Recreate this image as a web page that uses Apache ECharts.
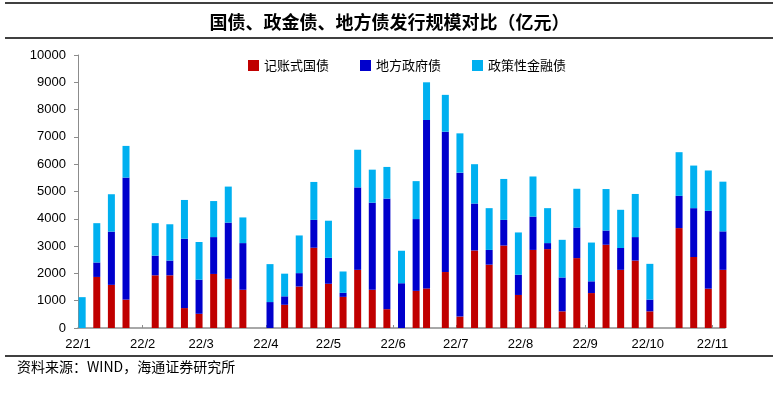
<!DOCTYPE html>
<html>

<head>
    <meta charset="utf-8">
    <title>国债、政金债、地方债发行规模对比</title>
    <script src="https://cdn.jsdelivr.net/npm/echarts@6.0.0/dist/echarts.min.js"></script>
</head>

<body style="margin: 0;">
    <div id="main" style="width: 779px; height: 398px;"></div>

    <script>
        // week dates (bar positions on the date axis)
        var weeks = [
            '2022-01-03', '2022-01-10', '2022-01-17', '2022-01-24',
            '2022-02-07', '2022-02-14', '2022-02-21', '2022-02-28',
            '2022-03-07', '2022-03-14', '2022-03-21',
            '2022-04-03', '2022-04-10', '2022-04-17', '2022-04-24',
            '2022-05-01', '2022-05-08', '2022-05-15', '2022-05-22', '2022-05-29',
            '2022-06-05', '2022-06-12', '2022-06-17', '2022-06-26',
            '2022-07-03', '2022-07-10', '2022-07-17', '2022-07-24', '2022-07-31',
            '2022-08-07', '2022-08-14', '2022-08-21', '2022-08-28',
            '2022-09-04', '2022-09-11', '2022-09-18', '2022-09-25',
            '2022-10-02', '2022-10-16', '2022-10-23', '2022-10-30', '2022-11-06'
        ];
        // 记账式国债
        var treasuryBonds = [
            0, 1870, 1580, 1040,
            1930, 1930, 730, 520,
            1980, 1800, 1400,
            0, 850, 1520, 2940,
            1620, 1140, 2130, 1400, 690,
            0, 1360, 1450, 2050,
            420, 2840, 2320, 3020, 1210,
            2860, 2890, 610, 2560,
            1280, 3050, 2130, 2470,
            610, 3660, 2600, 1440, 2130
        ];
        // 地方政府债
        var localBonds = [
            0, 530, 1950, 4470,
            720, 540, 2540, 1250,
            1350, 2060, 1710,
            950, 310, 490, 1020,
            950, 150, 3020, 3190, 4050,
            1640, 2630, 6170, 5140,
            5270, 1720, 540, 940, 740,
            1220, 220, 1240, 1120,
            430, 520, 800, 860,
            430, 1180, 1790, 2850, 1410
        ];
        // 政策性金融债
        var policyBonds = [
            1130, 1440, 1370, 1160,
            1190, 1330, 1420, 1380,
            1320, 1320, 940,
            1390, 830, 1380, 1390,
            1360, 780, 1380, 1210, 1160,
            1190, 1390, 1380, 1350,
            1440, 1440, 1530, 1500, 1550,
            1470, 1280, 1380, 1420,
            1420, 1520, 1400, 1580,
            1310, 1600, 1560, 1480, 1820
        ];
        var monthStarts = [
            '2022-01-01', '2022-02-01', '2022-03-01', '2022-04-01', '2022-05-01', '2022-06-01',
            '2022-07-01', '2022-08-01', '2022-09-01', '2022-10-01', '2022-11-01'
        ];

        var FONT_CN = '"Noto Sans CJK SC", sans-serif';
        var FONT_NUM = '"Liberation Sans", Arial, sans-serif';
        var AXIS_GRAY = '#8c8c8c';

        function toTime(s) {
            var p = s.split('-');
            return new Date(+p[0], +p[1] - 1, +p[2]).getTime();
        }

        // [value, time] so that the value dimension comes first and gets stacked
        function pairs(values) {
            return weeks.map(function (w, i) {
                return [values[i], toTime(w)];
            });
        }

        var monthTicks = monthStarts.map(toTime);

        var chartDom = document.getElementById('main');
        var myChart = echarts.init(chartDom, null, { renderer: 'canvas' });

        function barSeries(name, values, color) {
            return {
                name: name,
                type: 'bar',
                stack: 'total',
                barWidth: 7,
                clip: false,
                encode: { x: 1, y: 0 },
                itemStyle: { color: color },
                data: pairs(values)
            };
        }

        var option = {
            animation: false,
            title: {
                text: '国债、政金债、地方债发行规模对比（亿元）',
                left: 'center',
                top: 8,
                textStyle: {
                    fontFamily: FONT_CN,
                    fontSize: 18,
                    fontWeight: 'bold',
                    color: '#000'
                }
            },
            legend: {
                left: 248,
                top: 59,
                padding: 0,
                itemWidth: 11,
                itemHeight: 11,
                itemGap: 31,
                icon: 'rect',
                textStyle: {
                    fontFamily: FONT_CN,
                    fontSize: 13,
                    color: '#000'
                },
                data: ['记账式国债', '地方政府债', '政策性金融债']
            },
            grid: {
                left: 78,
                right: 54,
                top: 55,
                bottom: 70
            },
            // date axis drawn as a numeric axis of timestamps, labelled at month starts
            xAxis: {
                type: 'value',
                min: toTime('2022-01-01'),
                max: toTime('2022-11-07'),
                axisLine: { show: true, onZero: false, lineStyle: { color: AXIS_GRAY, width: 1.5 } },
                axisTick: {
                    show: true,
                    inside: true,
                    length: 3,
                    customValues: monthTicks,
                    lineStyle: { color: AXIS_GRAY }
                },
                axisLabel: {
                    customValues: monthTicks,
                    margin: 10,
                    fontFamily: FONT_NUM,
                    fontSize: 13,
                    color: '#000',
                    formatter: function (v) {
                        return '22/' + (new Date(v).getMonth() + 1);
                    }
                },
                splitLine: { show: false }
            },
            yAxis: {
                type: 'value',
                min: 0,
                max: 10000,
                interval: 1000,
                axisLine: { show: true, lineStyle: { color: AXIS_GRAY } },
                axisTick: { show: true, length: 4, lineStyle: { color: AXIS_GRAY } },
                axisLabel: {
                    margin: 12,
                    fontFamily: FONT_NUM,
                    fontSize: 13,
                    color: '#000',
                    formatter: function (v) {
                        return String(v);
                    }
                },
                splitLine: { show: false }
            },
            graphic: [
                {
                    type: 'line',
                    shape: { x1: 5, y1: 3, x2: 773, y2: 3 },
                    style: { stroke: '#000', lineWidth: 1.5 }
                },
                {
                    type: 'line',
                    shape: { x1: 5, y1: 38, x2: 773, y2: 38 },
                    style: { stroke: '#000', lineWidth: 1.5 }
                },
                {
                    type: 'line',
                    shape: { x1: 5, y1: 356, x2: 773, y2: 356 },
                    style: { stroke: '#000', lineWidth: 1.5 }
                },
                {
                    type: 'text',
                    left: 17,
                    top: 360,
                    style: {
                        text: '资料来源：WIND，海通证券研究所',
                        font: '14px ' + FONT_CN,
                        fill: '#000'
                    }
                }
            ],
            series: [
                barSeries('记账式国债', treasuryBonds, '#C00000'),
                barSeries('地方政府债', localBonds, '#0000CC'),
                barSeries('政策性金融债', policyBonds, '#00B0F0')
            ]
        };

        option && myChart.setOption(option);
    </script>
</body>

</html>
